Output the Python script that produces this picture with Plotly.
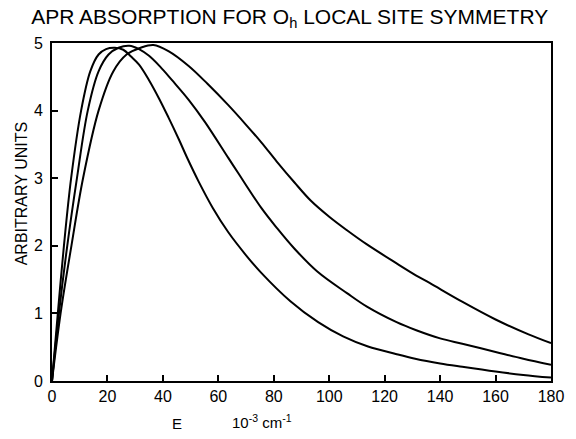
import plotly.graph_objects as go

# Curve A (narrowest, peak ~23)
xa = [0, 2.1, 4.3, 6.9, 10.5, 13.8, 16.8, 19.5, 22.7, 25.7, 28.5, 31.4, 35, 38.6, 42, 45.7, 49, 52.9, 58, 63.6,
      70, 75.5, 86, 96, 105, 114, 124, 131, 140, 148, 160, 170, 180]
ya = [0, 1.0, 2.0, 3.0, 4.0, 4.58, 4.83, 4.91, 4.93, 4.90, 4.80, 4.68, 4.45, 4.18, 3.90, 3.58, 3.28, 2.95, 2.56, 2.20,
      1.86, 1.60, 1.18, 0.87, 0.66, 0.51, 0.40, 0.33, 0.26, 0.21, 0.14, 0.09, 0.05]

# Curve B (middle, peak ~28)
xb = [0, 2.5, 5.5, 9.0, 12.9, 16.8, 20.4, 24, 27.9, 31.4, 35, 39, 43.3, 49.3, 55.2, 63.6, 67.1, 75.5, 81, 87.4, 95.7,
      106.4, 113.6, 124.3, 131.4, 140, 148, 160, 170, 180]
yb = [0, 1.0, 2.0, 3.0, 4.0, 4.58, 4.83, 4.93, 4.96, 4.91, 4.81, 4.65, 4.45, 4.16, 3.83, 3.30, 3.08, 2.56, 2.27, 1.96,
      1.62, 1.30, 1.10, 0.87, 0.75, 0.63, 0.55, 0.43, 0.33, 0.24]

# Curve C (widest, peak ~37)
xc = [0, 3.1, 7.0, 11.2, 16.8, 22.1, 26.9, 32, 36.6, 42, 49.3, 56, 63.6, 70, 75.5, 81, 87.4, 93.3, 100,
      106.4, 113.6, 124.3, 131.4, 136.2, 148.1, 160, 171.9, 180]
yc = [0, 1.0, 2.0, 3.0, 4.0, 4.58, 4.83, 4.93, 4.97, 4.88, 4.66, 4.40, 4.08, 3.79, 3.53, 3.25, 2.94, 2.67, 2.43,
      2.23, 2.02, 1.74, 1.56, 1.45, 1.17, 0.91, 0.69, 0.56]

x_ticks = [0, 20, 40, 60, 80, 100, 120, 140, 160, 180]
y_ticks = [0, 1, 2, 3, 4, 5]

FONT = "Liberation Sans"

fig = go.Figure()
for xs, ys in [(xa, ya), (xb, yb), (xc, yc)]:
    fig.add_trace(go.Scatter(x=xs, y=ys, mode="lines",
                             line=dict(color="black", width=2, shape="spline", smoothing=1.0),
                             showlegend=False, hoverinfo="skip"))

axis_common = dict(showgrid=False, zeroline=False, showline=True, linecolor="black", linewidth=2,
                   mirror=True, ticks="inside", ticklen=6, tickwidth=1.5, tickcolor="black",
                   tickfont=dict(family=FONT, size=16, color="black"))

fig.update_xaxes(range=[0, 180], tickvals=x_ticks, ticktext=[str(v) for v in x_ticks], **axis_common)
fig.update_yaxes(range=[0, 5], tickvals=y_ticks, ticktext=[str(v) for v in y_ticks],
                 ticklabelstandoff=4, **axis_common)

fig.update_layout(
    width=576, height=439,
    margin=dict(l=52, r=20, t=43, b=58),
    paper_bgcolor="white", plot_bgcolor="white",
    title=dict(text="APR ABSORPTION FOR O<sub>h</sub> LOCAL SITE SYMMETRY",
               x=0.503, xanchor="center", y=0.962, yanchor="middle",
               font=dict(family=FONT, size=21, color="black")),
    annotations=[
        dict(text="ARBITRARY UNITS", textangle=-90, xref="paper", yref="paper",
             x=(22 - 52) / 504, y=(381 - 194) / 338, xanchor="center", yanchor="middle",
             showarrow=False, font=dict(family=FONT, size=16, color="black")),
        dict(text="E", xref="paper", yref="paper", x=(178 - 52) / 504, y=(381 - 423) / 338,
             xanchor="center", yanchor="middle", showarrow=False,
             font=dict(family=FONT, size=15, color="black")),
        dict(text="10<sup>-3</sup> cm<sup>-1</sup>", xref="paper", yref="paper",
             x=(264 - 52) / 504, y=(381 - 421) / 338,
             xanchor="center", yanchor="middle", showarrow=False,
             font=dict(family=FONT, size=15, color="black")),
    ],
)

fig.write_html("out.html")
